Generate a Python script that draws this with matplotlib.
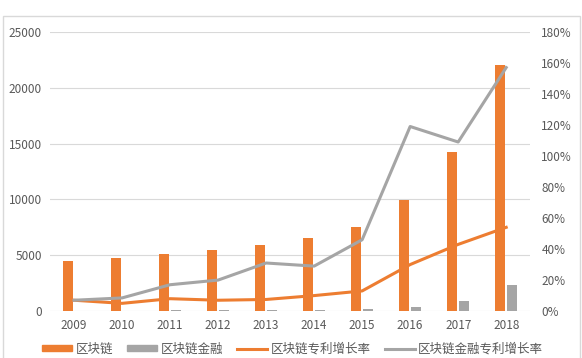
import matplotlib
matplotlib.use("Agg")
import matplotlib.pyplot as plt
import numpy as np
from matplotlib.patches import Rectangle, Patch
from matplotlib.lines import Line2D
from matplotlib.ticker import FuncFormatter

plt.rcParams['font.family'] = ['Noto Sans CJK SC', 'DejaVu Sans']

years = ['2009', '2010', '2011', '2012', '2013', '2014', '2015', '2016', '2017', '2018']
blockchain = [4500, 4750, 5100, 5470, 5900, 6560, 7550, 9950, 14270, 22050]
blockchain_fin = [40, 50, 60, 60, 80, 100, 180, 390, 900, 2330]
bc_rate = [7, 5, 8, 7, 7.5, 10, 13, 30, 43, 54]
fin_rate = [7, 8.5, 17, 20, 31, 29, 46, 119, 109, 157]

labels = ['区块链', '区块链金融', '区块链专利增长率', '区块链金融专利增长率']
orange = '#ED7D31'
gray = '#A5A5A5'
tick_color = '#595959'

fig = plt.figure(figsize=(5.82, 3.58), dpi=100)
ax = fig.add_axes([0.086, 0.131, 0.825, 0.78])
ax2 = ax.twinx()

x = np.arange(len(years))
w = 0.22
ax.bar(x - 0.125, blockchain, w, color=orange, zorder=3)
ax.bar(x + 0.125, blockchain_fin, w, color=gray, zorder=3)
ax2.plot(x, bc_rate, color=orange, lw=2.2, zorder=4)
ax2.plot(x, fin_rate, color=gray, lw=2.2, zorder=4)

ax.set_xlim(-0.5, len(years) - 0.5)
ax.set_ylim(0, 25000)
ax.set_yticks(range(0, 25001, 5000))
ax2.set_ylim(0, 180)
ax2.set_yticks(range(0, 181, 20))
ax2.yaxis.set_major_formatter(FuncFormatter(lambda v, p: f"{int(v)}%"))
ax.set_xticks(x)
ax.set_xticklabels(years)
ax.grid(axis='y', color='#D9D9D9', lw=0.8, zorder=0)
ax.set_axisbelow(True)
for a in (ax, ax2):
    for s in a.spines.values():
        s.set_visible(False)
    a.tick_params(length=0, colors=tick_color, labelsize=8.5)
ax.tick_params(axis='y', pad=6)
ax2.tick_params(axis='y', pad=8)
ax.tick_params(axis='x', pad=6)

handles = [Patch(color=orange), Patch(color=gray),
           Line2D([], [], color=orange, lw=2.2), Line2D([], [], color=gray, lw=2.2)]
fig.legend(handles, labels, loc='center', bbox_to_anchor=(0.503, 0.025), ncol=4,
           frameon=False, fontsize=9, handlelength=2.4, handleheight=0.45,
           columnspacing=1.15, handletextpad=0.25, labelcolor=tick_color)

fig.patches.append(Rectangle((0.006, -0.01), 0.99, 0.965, transform=fig.transFigure,
                             fill=False, edgecolor='#D9D9D9', lw=1))

fig.savefig('out.png', dpi=100, facecolor='white')
